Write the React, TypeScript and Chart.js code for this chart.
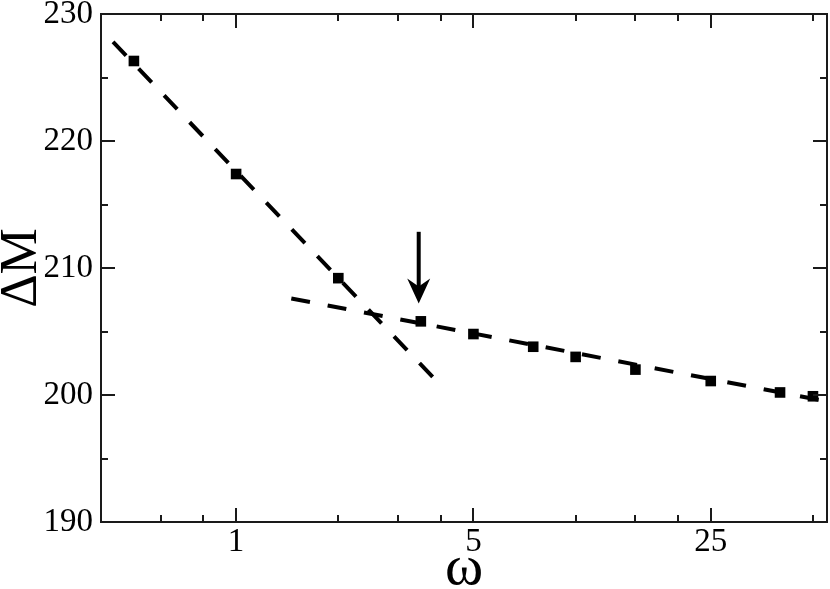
import React, { useEffect, useRef } from 'react';
import { Chart, registerables } from 'chart.js';

Chart.register(...registerables);

// ---- data ----
const omega = [0.5, 1, 2, 3.5, 5, 7.5, 10, 15, 25, 40, 50];
const deltaM = [226.3, 217.4, 209.2, 205.8, 204.8, 203.8, 203.0, 202.0, 201.1, 200.2, 199.9];

const fitLowOmega = [0.434, 3.91];
const fitLowDeltaM = [227.8, 201.05];
const fitHighOmega = [1.454, 55];
const fitHighDeltaM = [207.6, 199.5];

const arrowOmega = [3.45, 3.45];
const arrowDeltaM = [212.85, 207.2];

const xMajorTicks = [1, 5, 25];
const xMinorTicks = [0.6, 0.8, 2, 3, 4, 10, 15, 20, 50];
const yMajorTicks = [190, 200, 210, 220, 230];
const yMinorTicks = [195, 205, 215, 225];
const xRange = [0.4, 55];
const yRange = [190, 230];

const SERIF = "'Liberation Serif', 'DejaVu Serif', serif";

const framePlugin = {
  id: 'frameTicksArrow',
  afterDatasetsDraw(chart: any) {
    const { ctx, chartArea, scales } = chart;
    const { left, right, top, bottom } = chartArea;
    const x = scales.x;
    const y = scales.y;
    ctx.save();
    ctx.strokeStyle = '#1a1a1a';
    ctx.lineWidth = 2;
    ctx.strokeRect(left, top, right - left, bottom - top);
    ctx.beginPath();
    const xt = (vals: number[], len: number) =>
      vals.forEach((v) => {
        const px = Math.round(x.getPixelForValue(v));
        ctx.moveTo(px, bottom);
        ctx.lineTo(px, bottom - len);
        ctx.moveTo(px, top);
        ctx.lineTo(px, top + len);
      });
    const yt = (vals: number[], len: number) =>
      vals.forEach((v) => {
        const py = Math.round(y.getPixelForValue(v));
        ctx.moveTo(left, py);
        ctx.lineTo(left + len, py);
        ctx.moveTo(right, py);
        ctx.lineTo(right - len, py);
      });
    xt(xMajorTicks, 14);
    xt(xMinorTicks, 7);
    yt(yMajorTicks, 14);
    yt(yMinorTicks, 7);
    ctx.stroke();

    // arrow
    const ax = x.getPixelForValue(arrowOmega[0]);
    const y0 = y.getPixelForValue(arrowDeltaM[0]);
    const tip = y.getPixelForValue(arrowDeltaM[1]);
    ctx.strokeStyle = '#000';
    ctx.lineWidth = 4;
    ctx.beginPath();
    ctx.moveTo(ax, y0);
    ctx.lineTo(ax, tip - 14);
    ctx.stroke();
    ctx.fillStyle = '#000';
    ctx.beginPath();
    ctx.moveTo(ax, tip);
    ctx.lineTo(ax - 11.5, tip - 25);
    ctx.lineTo(ax, tip - 17);
    ctx.lineTo(ax + 11.5, tip - 25);
    ctx.closePath();
    ctx.fill();
    ctx.restore();
  },
};

export default function App() {
  const ref = useRef<HTMLCanvasElement | null>(null);

  useEffect(() => {
    if (!ref.current) return;
    const pts = omega.map((v, i) => ({ x: v, y: deltaM[i] }));
    const fit1 = fitLowOmega.map((v, i) => ({ x: v, y: fitLowDeltaM[i] }));
    const fit2 = fitHighOmega.map((v, i) => ({ x: v, y: fitHighDeltaM[i] }));
    const tickFont = { family: SERIF, size: 33 };
    const chart = new Chart(ref.current, {
      type: 'scatter',
      data: {
        datasets: [
          {
            data: pts,
            pointStyle: 'rect',
            pointRadius: 7.5,
            pointBorderWidth: 0,
            pointBackgroundColor: '#000',
            backgroundColor: '#000',
            borderColor: '#000',
            showLine: false,
          },
          {
            data: fit1,
            showLine: true,
            pointRadius: 0,
            borderColor: '#000',
            borderWidth: 4,
            borderDash: [19, 18],
            borderCapStyle: 'butt',
          },
          {
            data: fit2,
            showLine: true,
            pointRadius: 0,
            borderColor: '#000',
            borderWidth: 4,
            borderDash: [19, 18],
            borderCapStyle: 'butt',
          },
        ],
      } as any,
      options: {
        animation: false,
        responsive: false,
        devicePixelRatio: 1,
        events: [],
        layout: { autoPadding: false, padding: { left: 0, right: 3, top: 14, bottom: 0 } },
        plugins: { legend: { display: false }, tooltip: { enabled: false } },
        scales: {
          x: {
            type: 'logarithmic',
            min: xRange[0],
            max: xRange[1],
            afterBuildTicks: (s: any) => {
              s.ticks = xMajorTicks.map((v) => ({ value: v }));
            },
            afterFit: (s: any) => {
              s.height = 67;
              s.paddingLeft = 0;
              s.paddingRight = 0;
            },
            ticks: {
              callback: (v: any) => String(v),
              font: tickFont,
              color: '#000',
              padding: 1,
              maxRotation: 0,
              autoSkip: false,
            },
            grid: { display: false, drawTicks: false },
            border: { display: false },
            title: {
              display: true,
              text: 'ω',
              color: '#000',
              font: { family: SERIF, size: 58, lineHeight: 0.7 },
              padding: { top: 0, bottom: 0 },
            },
          },
          y: {
            type: 'linear',
            min: yRange[0],
            max: yRange[1],
            afterBuildTicks: (s: any) => {
              s.ticks = yMajorTicks.map((v) => ({ value: v }));
            },
            afterFit: (s: any) => {
              s.width = 101;
              s.paddingTop = 0;
              s.paddingBottom = 0;
            },
            ticks: {
              callback: (v: any) => String(v),
              font: tickFont,
              color: '#000',
              padding: 8,
            },
            grid: { display: false, drawTicks: false },
            border: { display: false },
            title: {
              display: true,
              text: 'ΔM',
              color: '#000',
              font: { family: SERIF, size: 52, lineHeight: 0.8 },
              padding: { top: 2, bottom: 0 },
            },
          },
        },
      } as any,
      plugins: [framePlugin],
    });
    return () => chart.destroy();
  }, []);

  return (
    <div style={{ position: 'absolute', left: 0, top: 0, width: 830, height: 589, background: '#fff' }}>
      <canvas ref={ref} width={830} height={589} style={{ display: 'block', width: 830, height: 589 }} />
    </div>
  );
}
